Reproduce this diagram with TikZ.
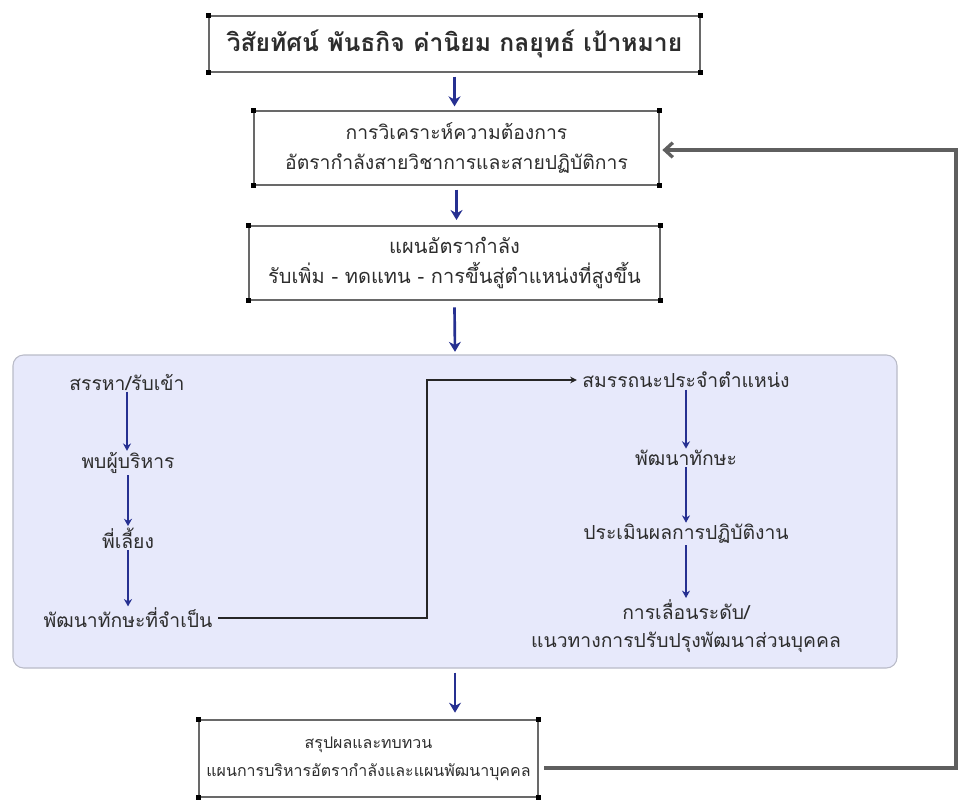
\documentclass[tikz,border=0pt]{standalone}
\usepackage{fontspec}
\newfontfamily\thaifont[Script=Thai]{Loma}
\usetikzlibrary{arrows.meta}

\definecolor{navy}{RGB}{38,48,145}
\definecolor{panelblue}{RGB}{231,233,251}
\definecolor{paneledge}{RGB}{185,187,200}
\definecolor{boxgray}{RGB}{105,105,105}
\definecolor{txtgray}{RGB}{45,45,45}
\definecolor{fbgray}{RGB}{95,95,95}

\begin{document}
\begin{tikzpicture}[x=0.75pt,y=0.75pt,yscale=-1,
  box/.style={draw=boxgray,line width=1pt,fill=white,align=center,inner sep=0pt,text=txtgray},
  lbl/.style={align=center,inner sep=1pt,text=txtgray,font=\thaifont\fontsize{14.5}{21}\selectfont},
  bigarrow/.style={navy,line width=2pt,-{Stealth[length=7.5pt,width=9pt]}},
  smallarrow/.style={navy,line width=1pt,-{Stealth[length=5.5pt,width=6pt]}},
  link/.style={black!85,line width=1.1pt,-{Stealth[length=5pt,width=5pt]}},
  feedback/.style={fbgray,line width=2.5pt,-{Straight Barb[length=6pt,width=11pt]}}]
\useasboundingbox (0,0) rectangle (959,799);

%Shape: Panel
\node [draw=paneledge,fill=panelblue,line width=0.8pt,rounded corners=8pt,
  minimum width=663pt,minimum height=234.75pt] (panel) at (455,511.5) {};

%Boxes
\node [box,minimum width=368.25pt,minimum height=42pt,font=\thaifont\bfseries\fontsize{18.5}{22}\selectfont] (vision) at (454.5,44)
  {วิสัยทัศน์ พันธกิจ ค่านิยม กลยุทธ์ เป้าหมาย};
\node [box,minimum width=303.75pt,minimum height=55.5pt,font=\thaifont\fontsize{14.5}{22.5}\selectfont] (analysis) at (456.5,148)
  {การวิเคราะห์ความต้องการ\\อัตรากำลังสายวิชาการและสายปฏิบัติการ};
\node [box,minimum width=308.25pt,minimum height=55.5pt,font=\thaifont\fontsize{15}{23}\selectfont] (plan) at (454.5,263)
  {แผนอัตรากำลัง\\รับเพิ่ม - ทดแทน - การขึ้นสู่ตำแหน่งที่สูงขึ้น};
\node [box,minimum width=254.25pt,minimum height=57.75pt,font=\thaifont\fontsize{12}{21}\selectfont] (review) at (368.5,758.5)
  {สรุปผลและทบทวน\\แผนการบริหารอัตรากำลังและแผนพัฒนาบุคคล};

%Corner marks
\foreach \b in {vision,analysis,plan,review}
  \foreach \c in {north west,north east,south west,south east}
    \fill (\b.\c) +(-2.6,-2.6) rectangle +(2.6,2.6);

%Left column
\node [lbl] (recruit) at (127,382) {สรรหา/รับเข้า};
\node [lbl] (meet) at (128,463) {พบผู้บริหาร};
\node [lbl] (mentor) at (128,538) {พี่เลี้ยง};
\node [lbl] (skill) at (128,618) {พัฒนาทักษะที่จำเป็น};

%Right column
\node [lbl] (competency) at (686,380) {สมรรถนะประจำตำแหน่ง};
\node [lbl] (develop) at (686,458) {พัฒนาทักษะ};
\node [lbl] (appraise) at (686,534) {ประเมินผลการปฏิบัติงาน};
\node [lbl] (promote) at (686,626) {การเลื่อนระดับ/\\แนวทางการปรับปรุงพัฒนาส่วนบุคคล};

%Main arrows (yshift is flipped by yscale=-1: positive = down)
\draw [bigarrow] ([yshift=3]vision.south) -- ([yshift=-3]vision.south |- analysis.north);
\draw [bigarrow] ([yshift=3]analysis.south) -- ([yshift=-4]analysis.south |- plan.north);
\draw [bigarrow] ([yshift=5]plan.south) -- ([yshift=-2]panel.north);
\draw [bigarrow] ([yshift=3]panel.south) -- ([yshift=-5]panel.south |- review.north);

%Inner arrows
\draw [smallarrow] (recruit.south) -- (recruit.south |- meet.north);
\draw [smallarrow] (meet.south) -- (meet.south |- mentor.north);
\draw [smallarrow] (mentor.south) -- (mentor.south |- skill.north);
\draw [smallarrow] (competency.south) -- (competency.south |- develop.north);
\draw [smallarrow] (develop.south) -- (develop.south |- appraise.north);
\draw [smallarrow] (appraise.south) -- (appraise.south |- promote.north);

%Link between columns
\coordinate (turn) at (427,0);
\draw [link] ([xshift=3]skill.east) -- (skill.east -| turn) |- ([xshift=-3]competency.west);

%Feedback loop
\coordinate (fbedge) at (956,0);
\draw [feedback] ([xshift=4,yshift=7]review.east) -- ([yshift=7]review.east -| fbedge)
  -- ([yshift=1.5]analysis.east -| fbedge) -- ([xshift=2,yshift=1.5]analysis.east);

\end{tikzpicture}
\end{document}
